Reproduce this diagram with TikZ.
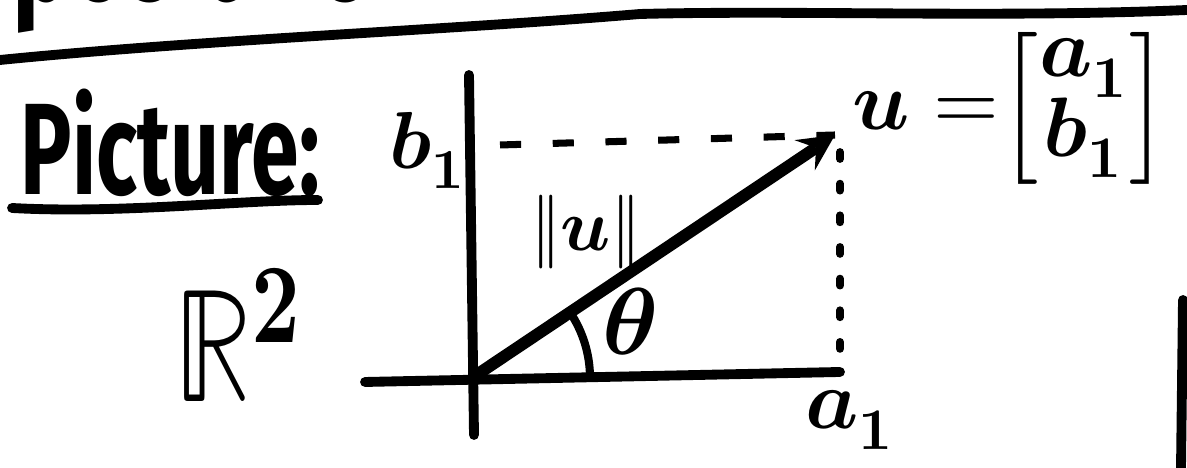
\documentclass[tikz,border=0pt]{standalone}
\usepackage{amsmath}
\usepackage{graphicx}
\usepackage{fontspec}
\usepackage{unicode-math}
\setmainfont{Fira Sans}
\setmathfont{Latin Modern Math}
\usepackage{tikz}
\usetikzlibrary{arrows,positioning,calc}

\newcommand{\narrow}[1]{\scalebox{0.66}[1]{#1}}

\begin{document}
\begin{tikzpicture}[x=0.01cm, y=-0.01cm,
    ink/.style={line width=2.8pt, line cap=round},
    vec/.style={->, >=stealth, line width=3.4pt},
    guide/.style={line width=2pt, dash pattern=on 6pt off 9pt},
    drop/.style={line width=2.2pt, line cap=round, dash pattern=on 2pt off 7pt},
    word/.style={inner sep=0pt, font=\bfseries\fontsize{#1}{#1}\selectfont},
    sym/.style={inner sep=0pt, font=\fontsize{#1}{#1}\selectfont}
]
    \useasboundingbox (0,0) rectangle (1187,468);

    % heading, cut off by the top of the page
    \node[word=42, anchor=base west] (head) at (12,1) {\narrow{positive}};
    \draw[ink] (0,60) .. controls (200,40) and (450,30) .. (640,14) .. controls (800,10) and (1000,18) .. (1187,10);
    % page edge
    \draw[ink] (1183,300) -- (1181,468);

    \node[word=37, anchor=base west] (pic) at (20,195) {\narrow{Picture:}};
    \draw[ink] (12,208) .. controls (120,214) and (240,200) .. (318,200);
    \node[sym=46] (R2) at (238,335) {\scalebox{0.75}[1]{$\mathbb{R}^{\symbf{2}}$}};

    % axes and the vector
    \coordinate (O) at (472,378);
    \coordinate (xl) at (365,382);
    \coordinate (xr) at (840,372);
    \coordinate (yt) at (469,75);
    \coordinate (yb) at (474,435);
    \coordinate (U) at (835,135);
    \coordinate (B) at (500,145);
    \coordinate (Ud) at (840,152);

    \draw[ink] (xl) -- (xr);
    \draw[ink] (yt) -- (yb);
    \draw[guide] (B) -- (U);
    \draw[drop] (Ud) -- (xr);
    \draw[vec] (O) -- (U);
    \draw[line width=2.3pt] ($(O)+(118,0)$) arc[start angle=0, end angle=-34, radius=118];

    \node[sym=27] (th) at (630,322) {$\symbfit{\theta}$};
    \node[sym=21] (norm) at (586,232) {$\|\symbfit{u}\|$};
    \node[sym=23] (b1) at (428,150) {$\symbfit{b}_{\symbf{1}}$};
    \node[sym=24] (a1) at (850,420) {$\symbfit{a}_{\symbf{1}}$};
    \node[sym=24, anchor=west] (uvec) at (852,108) {\renewcommand\arraystretch{0.6}$\symbfit{u}\;{=}\mkern-3mu\left[\begin{array}{@{}c@{}}\symbfit{a}_{\symbf{1}}\\\symbfit{b}_{\symbf{1}}\end{array}\right]$};
\end{tikzpicture}
\end{document}
